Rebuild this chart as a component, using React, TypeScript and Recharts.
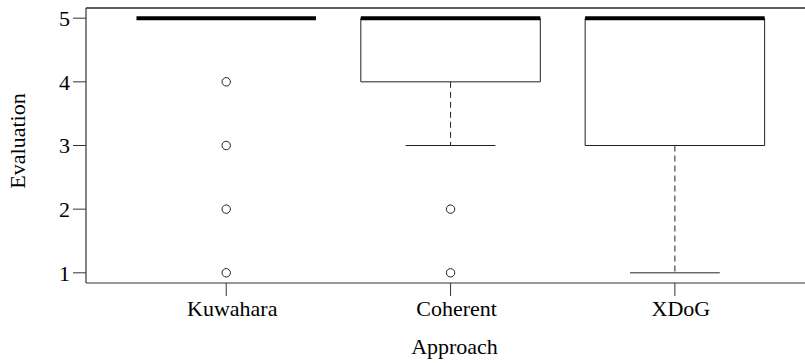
import React from 'react';
import { ComposedChart, XAxis, YAxis, Scatter, ReferenceArea, ReferenceLine, Label } from 'recharts';

const categories = ['Kuwahara', 'Coherent', 'XDoG'];
const lowerWhisker = [5, 3, 1];
const q1 = [5, 4, 3];
const median = [5, 5, 5];
const q3 = [5, 5, 5];
const outliers: number[][] = [[4, 3, 2, 1], [2, 1], []];
const yTicks = [1, 2, 3, 4, 5];
const xTicks = [1, 2, 3];
const yDomain: [number, number] = [0.84, 5.16];
const xDomain: [number, number] = [0.375, 3.58];

const CHART_W = 805;
const CHART_H = 363;
const FONT = '"Liberation Serif", "Times New Roman", Times, serif';
const INK = '#333333';
const BOX_HALF = 0.4;
const CAP_HALF = 0.2;

const outlierData = outliers.flatMap((vals, i) => vals.map((v) => ({ x: i + 1, y: v })));

const OutlierShape = (props: any) => {
  const { cx, cy } = props;
  if (cx == null || cy == null) return null;
  return <circle cx={cx} cy={cy} r={4.2} fill="#fff" stroke="#222" strokeWidth={1} />;
};

export default function App() {
  return (
    <div style={{ position: 'absolute', left: 0, top: 0 }}>
      <ComposedChart width={CHART_W} height={CHART_H} margin={{ top: 8, right: 0, bottom: 0, left: 0 }}>
        <XAxis
          type="number"
          dataKey="x"
          domain={xDomain}
          allowDataOverflow
          ticks={xTicks}
          interval={0}
          tickFormatter={(v: number) => categories[v - 1] ?? ''}
          tickSize={13}
          tickMargin={4}
          height={80}
          stroke={INK}
          axisLine={{ stroke: INK, strokeWidth: 1.2 }}
          tickLine={{ stroke: INK }}
          tick={{ fill: '#000', fontSize: 22, fontFamily: FONT, dx: 6 }}
        >
          <Label
            content={(p: any) => {
              const vb = p.viewBox || { x: 86, y: 283, width: 719, height: 80 };
              return (
                <text x={vb.x + vb.width / 2 + 9} y={vb.y + vb.height - 9} textAnchor="middle" fontSize={22} fontFamily={FONT} fill="#000">
                  Approach
                </text>
              );
            }}
          />
        </XAxis>
        <YAxis
          type="number"
          domain={yDomain}
          allowDataOverflow
          ticks={yTicks}
          interval={0}
          width={86}
          tickSize={13}
          tickMargin={3}
          stroke={INK}
          axisLine={{ stroke: INK, strokeWidth: 1.2 }}
          tickLine={{ stroke: INK }}
          tick={{ fill: '#000', fontSize: 22, fontFamily: FONT }}
        >
          <Label
            content={(p: any) => {
              const vb = p.viewBox || { x: 0, y: 8, width: 86, height: 275 };
              const cx = vb.x + 25;
              const cy = vb.y + vb.height / 2 - 4.5;
              return (
                <text x={cx} y={cy} textAnchor="middle" fontSize={22} fontFamily={FONT} fill="#000" transform={`rotate(-90, ${cx}, ${cy})`}>
                  Evaluation
                </text>
              );
            }}
          />
        </YAxis>

        <ReferenceLine
          segment={[{ x: xDomain[0], y: yDomain[1] }, { x: xDomain[1], y: yDomain[1] }]}
          stroke="#000000"
          strokeWidth={1.6}
          strokeOpacity={0.85}
          ifOverflow="visible"
        />

        {categories.map((c, i) => (
          <ReferenceLine
            key={`lw-${c}`}
            segment={[{ x: i + 1, y: q1[i] }, { x: i + 1, y: lowerWhisker[i] }]}
            stroke="#222"
            strokeWidth={1}
            strokeDasharray="6 4"
            ifOverflow="visible"
          />
        ))}
        {categories.map((c, i) => (
          <ReferenceLine
            key={`lc-${c}`}
            segment={[{ x: i + 1 - CAP_HALF, y: lowerWhisker[i] }, { x: i + 1 + CAP_HALF, y: lowerWhisker[i] }]}
            stroke="#222"
            strokeWidth={1}
            ifOverflow="visible"
          />
        ))}
        {categories.map((c, i) => (
          <ReferenceArea
            key={`box-${c}`}
            x1={i + 1 - BOX_HALF}
            x2={i + 1 + BOX_HALF}
            y1={q1[i]}
            y2={q3[i]}
            fill="#fff"
            fillOpacity={1}
            stroke="#222"
            strokeWidth={1}
            ifOverflow="visible"
          />
        ))}
        {categories.map((c, i) => (
          <ReferenceLine
            key={`med-${c}`}
            segment={[{ x: i + 1 - BOX_HALF, y: median[i] }, { x: i + 1 + BOX_HALF, y: median[i] }]}
            stroke="#000"
            strokeWidth={4}
            ifOverflow="visible"
          />
        ))}
        <Scatter data={outlierData} dataKey="y" isAnimationActive={false} shape={<OutlierShape />} />
      </ComposedChart>
    </div>
  );
}
